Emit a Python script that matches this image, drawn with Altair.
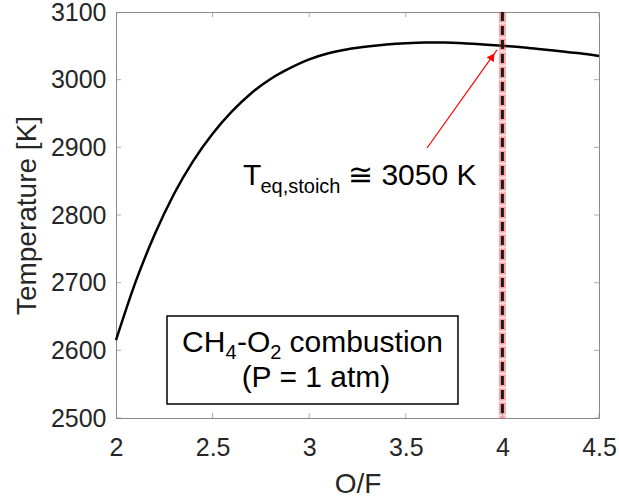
import altair as alt
import pandas as pd

FONT = "Liberation Sans, DejaVu Sans, sans-serif"

# ---- data ----
of_ratio = [2.0, 2.1, 2.2, 2.3, 2.4, 2.5, 2.6, 2.7, 2.8, 2.9, 3.0, 3.1, 3.2,
            3.3, 3.4, 3.5, 3.6, 3.7, 3.8, 3.9, 4.0, 4.1, 4.2, 4.3, 4.4, 4.5]
temperature = [2615, 2700, 2771, 2831, 2880, 2920, 2953, 2980, 3001, 3017,
               3030, 3039, 3045, 3049, 3052, 3054, 3055, 3055, 3054, 3052,
               3050, 3048, 3045, 3042, 3039, 3035]

x_ticks = [2, 2.5, 3, 3.5, 4, 4.5]
y_ticks = [2500, 2600, 2700, 2800, 2900, 3000, 3100]
x_domain = [2, 4.5]
y_domain = [2500, 3100]

stoich_of = [4.0]
arrow_tail_x, arrow_tail_y = [3.61], [2899]
arrow_head_x, arrow_head_y = [3.972], [3044]
arrow_tip_x, arrow_tip_y = [3.948], [3034]

annot_x, annot_y = 2.657, 2844
box_x1, box_x2, box_y1, box_y2 = [2.264], [3.770], [2520.7], [2650.7]
box_line1_x, box_line1_y = 2.3416, 2597.5
box_line2_x, box_line2_y = 3.035, 2545.8

xs = alt.Scale(domain=x_domain, nice=False, zero=False)
ys = alt.Scale(domain=y_domain, nice=False, zero=False)

AX_GRAY = "#8a8a8a"

X_AX = alt.Axis(values=x_ticks, title="O/F", tickSize=0, labelPadding=17, format="~g",
                titlePadding=10, grid=False, labelFlush=False, labelOverlap=False)
Y_AX = alt.Axis(values=y_ticks, title="Temperature [K]", tickSize=0, labelPadding=10,
                format="d", titlePadding=9, grid=False, labelFlush=False,
                labelOverlap=False)


def X(field):
    return alt.X(field, scale=xs, axis=X_AX, title="O/F")


def Y(field):
    return alt.Y(field, scale=ys, axis=Y_AX, title="Temperature [K]")


def one(**cols):
    return pd.DataFrame({k: (v if isinstance(v, list) else [v]) for k, v in cols.items()})


curve_df = pd.DataFrame({"of": of_ratio, "T": temperature})
curve = alt.Chart(curve_df).mark_line(color="black", strokeWidth=2.5,
                                      interpolate="monotone").encode(
    x=X("of:Q"), y=Y("T:Q"))

# inward ticks on all four sides (clipped to the plot area)
tick_layers = []
for yv in y_domain:
    d = pd.DataFrame({"x": x_ticks, "y": [yv] * len(x_ticks)})
    tick_layers.append(alt.Chart(d).mark_tick(orient="vertical", size=10, thickness=1,
                                               color=AX_GRAY, clip=True).encode(
        x=X("x:Q"), y=Y("y:Q")))
for xv in x_domain:
    d = pd.DataFrame({"y": y_ticks, "x": [xv] * len(y_ticks)})
    tick_layers.append(alt.Chart(d).mark_tick(orient="horizontal", size=10, thickness=1,
                                               color=AX_GRAY, clip=True).encode(
        x=X("x:Q"), y=Y("y:Q")))

# stoichiometric line: red glow + black dashes
stoich_df = pd.DataFrame({"of": stoich_of})
glow = alt.Chart(stoich_df).mark_rule(color="#ff3030", strokeWidth=7, opacity=0.15).encode(
    x=X("of:Q"))
glow2 = alt.Chart(stoich_df).mark_rule(color="#ff3030", strokeWidth=7, opacity=0.35,
                                       strokeDash=[12, 2], strokeDashOffset=1.5).encode(
    x=X("of:Q"))
dash = alt.Chart(stoich_df).mark_rule(color="#1a1a1a", strokeWidth=3,
                                      strokeDash=[9, 5]).encode(
    x=X("of:Q"))

# arrow
arrow_df = one(x=arrow_tail_x, y=arrow_tail_y, x2=arrow_head_x, y2=arrow_head_y)
arrow_line = alt.Chart(arrow_df).mark_rule(color="red", strokeWidth=1.2).encode(
    x=X("x:Q"), y=Y("y:Q"), x2="x2:Q", y2="y2:Q")
tip_df = one(x=arrow_tip_x, y=arrow_tip_y)
arrow_tip = alt.Chart(tip_df).mark_point(shape="triangle-up", filled=True, color="red",
                                         opacity=1, size=75, angle=35.5).encode(
    x=X("x:Q"), y=Y("y:Q"))


def txt(s, x, y, size, dx=0, dy=0, align="left"):
    d = one(label=s, x=x, y=y)
    return alt.Chart(d).mark_text(align=align, baseline="alphabetic", dx=dx, dy=dy,
                                  fontSize=size, font=FONT, color="black").encode(
        x=X("x:Q"), y=Y("y:Q"), text="label:N")


annot = [
    txt("T", annot_x, annot_y, 30),
    txt("eq,stoich", annot_x, annot_y, 20, dx=17.5, dy=8),
    txt("\u2245 3050 K", annot_x, annot_y, 30, dx=105),
]

box_df = one(x=box_x1, x2=box_x2, y=box_y1, y2=box_y2)
box = alt.Chart(box_df).mark_rect(fill="white", stroke="black", strokeWidth=1.5).encode(
    x=X("x:Q"), x2="x2:Q", y=Y("y:Q"), y2="y2:Q")

box_text = [
    txt("CH", box_line1_x, box_line1_y, 30),
    txt("4", box_line1_x, box_line1_y, 20, dx=43.5, dy=7),
    txt("-O", box_line1_x, box_line1_y, 30, dx=55),
    txt("2", box_line1_x, box_line1_y, 20, dx=88.3, dy=7),
    txt("combustion", box_line1_x, box_line1_y, 30, dx=107.5),
    txt("(P = 1 atm)", box_line2_x, box_line2_y, 30, align="center"),
]

chart = alt.layer(
    curve, *tick_layers, glow, glow2, dash, arrow_line, arrow_tip, *annot, box, *box_text
).properties(
    width=483, height=406,
    autosize=alt.AutoSizeParams(type="none"),
    padding={"left": 116, "top": 12, "right": 20, "bottom": 85},
).configure(
    font=FONT,
).configure_view(
    stroke=AX_GRAY, strokeWidth=1,
).configure_axis(
    domainColor=AX_GRAY, domainWidth=1,
    labelColor="#262626", titleColor="#262626",
    labelFontSize=25, titleFontSize=28, labelFont=FONT, titleFont=FONT,
    titleFontWeight="normal",
)

chart.save("out.html", embed_options={"renderer": "svg", "actions": False})
